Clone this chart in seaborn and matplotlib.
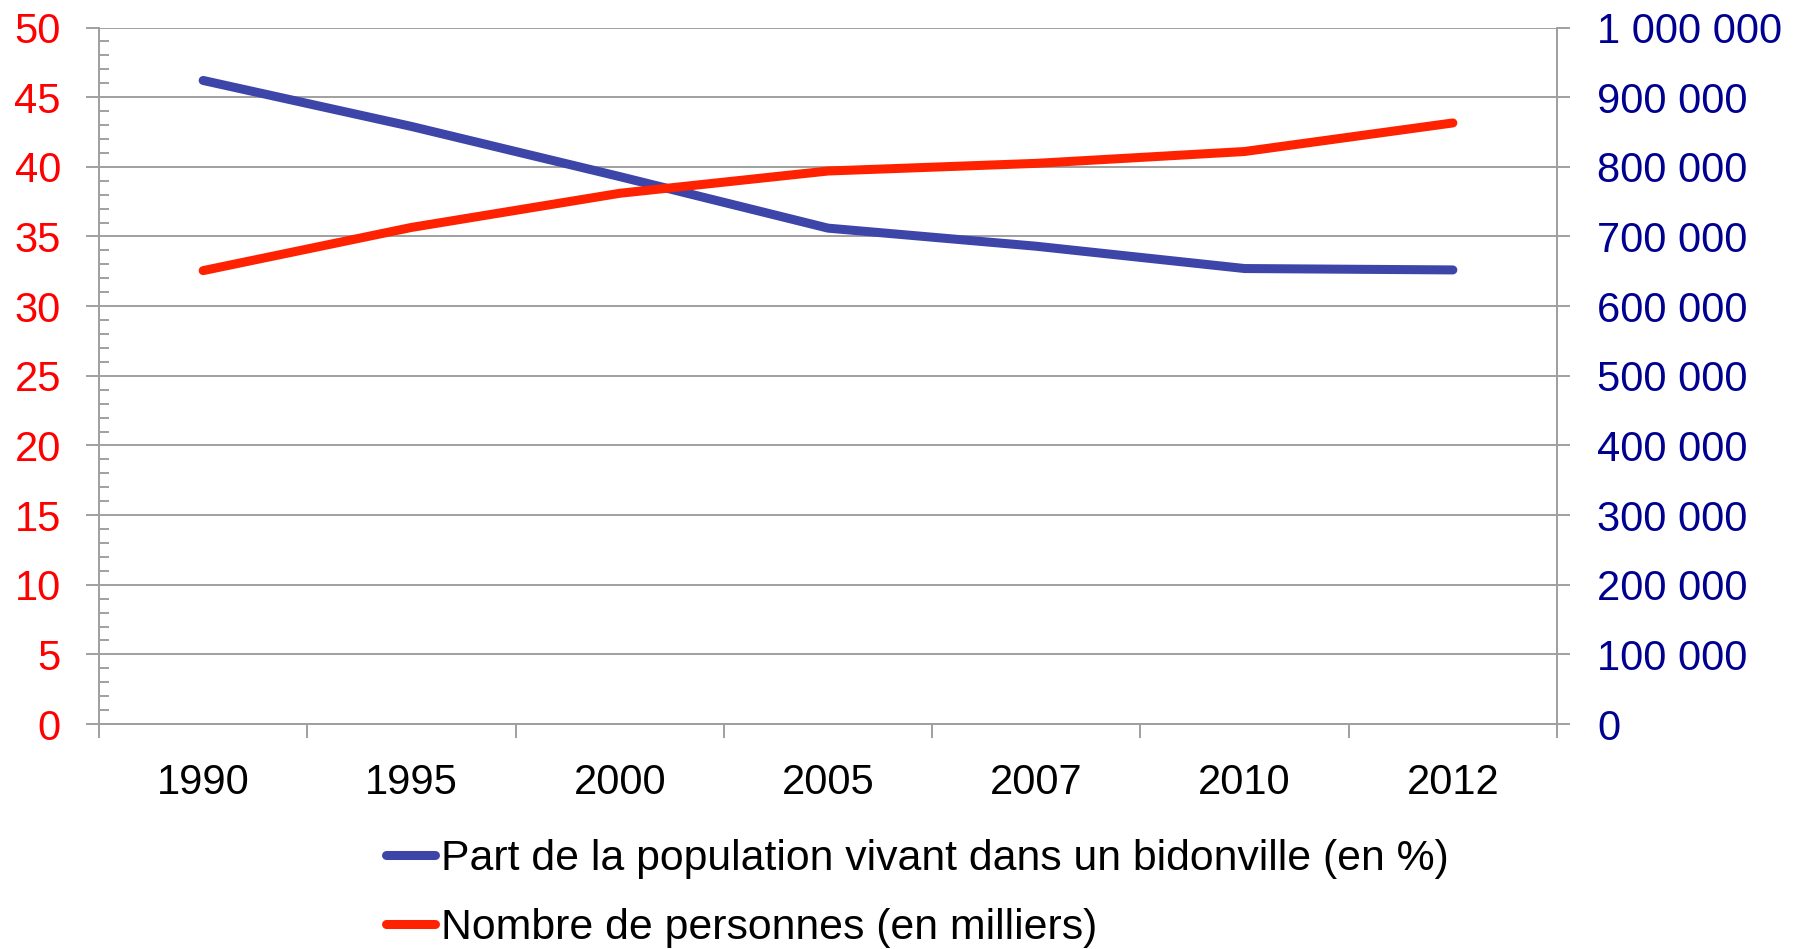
import pandas as pd
import matplotlib
matplotlib.use('Agg')
import matplotlib.pyplot as plt
import seaborn as sns
from matplotlib.ticker import MultipleLocator, FuncFormatter, FixedLocator

annees = ['1990', '1995', '2000', '2005', '2007', '2010', '2012']
# part de la population vivant dans un bidonville (%), axe de gauche
part_bidonville = [46.2, 42.9, 39.3, 35.6, 34.3, 32.7, 32.6]
# nombre de personnes (en milliers), axe de droite
nb_personnes = [651000, 713000, 762000, 794000, 805000, 822000, 863000]

label_part = 'Part de la population vivant dans un bidonville (en %)'
label_nb = 'Nombre de personnes (en milliers)'

bleu = '#3D45A8'
rouge = '#FF2200'
gris = '#A0A0A0'

plt.rcParams['font.family'] = ['Liberation Sans', 'DejaVu Sans']
plt.rcParams['font.size'] = 30

df = pd.DataFrame({'annee': annees, 'part': part_bidonville, 'nb': nb_personnes})

fig = plt.figure(figsize=(17.98, 9.49), dpi=100)
ax = fig.add_axes([0.05506, 0.2370, 0.8109, 0.7340])
ax2 = ax.twinx()

sns.lineplot(data=df, x='annee', y='part', ax=ax, color=bleu, linewidth=6.5,
             solid_capstyle='round', solid_joinstyle='round', label=label_part, legend=False)
sns.lineplot(data=df, x='annee', y='nb', ax=ax2, color=rouge, linewidth=6.5,
             solid_capstyle='round', solid_joinstyle='round', label=label_nb, legend=False)

ax.set_xlabel('')
ax.set_ylabel('')
ax2.set_ylabel('')

# axe x : traits aux limites des catégories, étiquettes au centre
ax.set_xlim(-0.5, len(annees) - 0.5)
ax.xaxis.set_major_locator(FixedLocator([i - 0.5 for i in range(len(annees) + 1)]))
ax.xaxis.set_minor_locator(FixedLocator(list(range(len(annees)))))
ax.set_xticklabels([], minor=False)
ax.set_xticklabels(annees, minor=True)
ax.tick_params(axis='x', which='major', direction='out', length=10, width=1.4, color=gris)
ax.tick_params(axis='x', which='minor', length=0, pad=28, labelsize=30, labelcolor='black')

# axe gauche
ax.set_ylim(0, 50)
ax.yaxis.set_major_locator(MultipleLocator(5))
ax.yaxis.set_minor_locator(MultipleLocator(1))
ax.tick_params(axis='y', which='major', direction='out', length=9.4, width=1.4, color=gris,
               pad=18, labelsize=30, labelcolor='#FF0000')
ax.tick_params(axis='y', which='minor', direction='in', length=7, width=1.4, color=gris)
ax.grid(axis='y', which='major', color=gris, linewidth=1.4)
ax.set_axisbelow(True)

# axe droit
ax2.set_ylim(0, 1000000)
ax2.yaxis.set_major_locator(MultipleLocator(100000))
ax2.yaxis.set_major_formatter(FuncFormatter(lambda v, p: f'{int(round(v)):,}'.replace(',', ' ')))
ax2.tick_params(axis='y', which='major', direction='out', length=9.4, width=1.4, color=gris,
                pad=19.4, labelsize=30, labelcolor='#000090')

for a in (ax, ax2):
    a.spines['top'].set_visible(False)
    for s in ('left', 'right', 'bottom'):
        a.spines[s].set_color(gris)
        a.spines[s].set_linewidth(1.4)

handles = ax.get_lines()[:1] + ax2.get_lines()[:1]
leg = fig.legend(handles, [label_part, label_nb], loc='upper left',
                 bbox_to_anchor=(0.2148, 0.1159), frameon=False, fontsize=30.8,
                 borderpad=0, borderaxespad=0, handlelength=1.15, handletextpad=0.12,
                 labelspacing=0.68)

fig.savefig('out.png', dpi=100)
